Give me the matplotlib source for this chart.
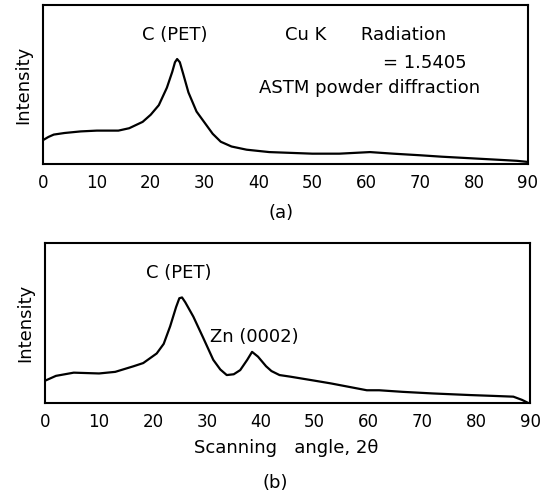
import matplotlib.pyplot as plt
import numpy as np

# XRD patterns, intensity as percent of panel height
angle_a = [0, 1, 2, 4, 7, 10, 14, 16, 18.5, 20, 21.5, 23, 24, 24.5, 24.9, 25.4, 26, 27,
           28.5, 30, 31.5, 33, 35, 37.8, 42, 50, 55, 60.7, 65, 70, 74, 80, 85.4, 88, 90]
inten_a = [15, 17, 18.5, 19.5, 20.5, 21, 21, 22.5, 26.5, 31, 37, 48, 58, 64, 66, 64, 57, 45,
           33, 26, 19, 14, 11, 9, 7.5, 6.5, 6.5, 7.5, 6.5, 5.5, 4.6, 3.5, 2.5, 2, 1.3]

angle_b = [0, 2, 5.3, 10, 13, 16.4, 18.2, 20.7, 22, 23.2, 24.3, 24.9, 25.4, 26, 27.5, 29.3,
           31.2, 32.5, 33.7, 35, 36.2, 37.5, 38.4, 39.5, 41, 42, 43.5, 45.5, 50, 53,
           59.7, 62, 66.4, 72, 78.9, 83, 86.9, 88.5, 89.7]
inten_b = [14, 17, 19, 18.5, 19.5, 23, 25, 31, 37, 48, 60, 65.5, 66, 63, 54, 41,
           27, 21, 17.5, 18, 20.6, 27, 32, 29, 23, 20, 17.5, 16.5, 14, 12.3,
           8, 8, 7, 6, 5, 4.5, 4, 2, 0]

xticks = np.arange(0, 91, 10)

fig = plt.figure(figsize=(5.51, 4.97), dpi=100)
ax1 = fig.add_axes([0.078, 0.670, 0.880, 0.320])
ax2 = fig.add_axes([0.082, 0.189, 0.880, 0.322])

for ax, x, y in [(ax1, angle_a, inten_a), (ax2, angle_b, inten_b)]:
    ax.plot(x, y, color="black", lw=1.6)
    ax.set_xlim(0, 90)
    ax.set_ylim(0, 100)
    ax.set_xticks(xticks)
    ax.set_yticks([])
    ax.tick_params(axis="x", length=0, pad=7, labelsize=12)
    ax.set_ylabel("Intensity", fontsize=13, labelpad=8)
    for s in ax.spines.values():
        s.set_linewidth(1.5)

# labels in panel (a)
ax1.text(24.5, 81, "C (PET)", ha="center", va="center", fontsize=13)
ax1.text(44.9, 81, "Cu K      Radiation", ha="left", va="center", fontsize=13)
ax1.text(63.1, 63.5, "= 1.5405", ha="left", va="center", fontsize=13)
ax1.text(60.7, 47.8, "ASTM powder diffraction", ha="center", va="center", fontsize=13)

# labels in panel (b)
ax2.text(24.7, 81, "C (PET)", ha="center", va="center", fontsize=13)
ax2.text(30.6, 41, "Zn (0002)", ha="left", va="center", fontsize=13)

fig.text(281 / 551, 1 - 213 / 497, "(a)", ha="center", va="center", fontsize=13)
fig.text(286 / 551, 1 - 448 / 497, "Scanning   angle, 2θ", ha="center", va="center", fontsize=13)
fig.text(275 / 551, 1 - 483 / 497, "(b)", ha="center", va="center", fontsize=13)

fig.savefig("out.png", dpi=100)
